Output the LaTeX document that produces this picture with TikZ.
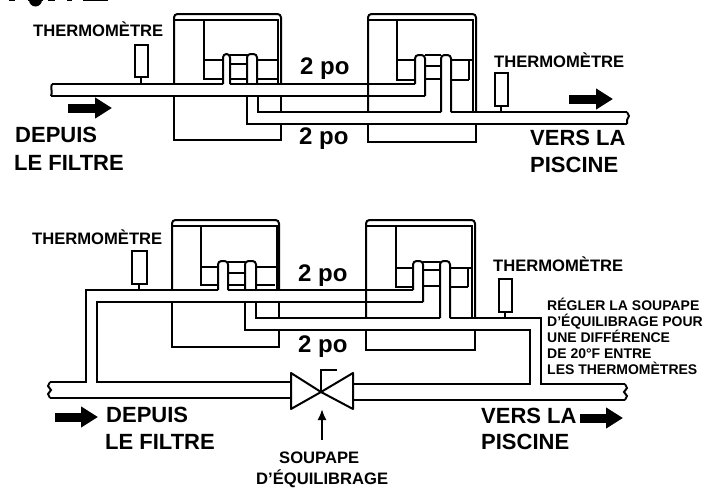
\documentclass[tikz,border=0pt]{standalone}
\usepackage{fontspec}
\setmainfont{Liberation Sans}
\usetikzlibrary{arrows.meta}
\tikzset{
  pipe/.style={line width=2pt},
  hump/.style={pipe,rounded corners=3.5pt},
  bigtext/.style={anchor=west,inner sep=0pt,font=\bfseries\fontsize{22}{26}\selectfont},
  sizetext/.style={anchor=west,inner sep=0pt,font=\bfseries\fontsize{24}{28}\selectfont},
  smalltext/.style={anchor=west,inner sep=0pt,font=\bfseries\fontsize{16.6}{20}\selectfont},
  notetext/.style={anchor=north west,inner sep=0pt,align=left,font=\bfseries\fontsize{14}{16}\selectfont},
  flowarrow/.style={line width=9pt,-{Triangle[length=17pt,width=20pt]}},
}
\begin{document}
\begin{tikzpicture}[x=1pt,y=-1pt]
  \useasboundingbox (0,0) rectangle (705,490);

  % Scan marks along the top edge
  \fill (9,0) rectangle (15,1);
  \fill (28,0) rectangle (43,1);
  \fill (35.5,0) circle (6.5);
  \fill (48,0) rectangle (55,1);
  \fill (67,0) rectangle (72,1);
  \fill (83,0) rectangle (108,1);

  % TOP PANEL
  % Left collector casing
  \draw[hump] (174,84) -- (174,14) -- (281,14) -- (281,84);
  \draw[pipe] (174,96) -- (174,140) -- (281,140) -- (281,123);
  \draw[pipe] (281,96) -- (281,112);
  \draw[pipe] (175,20) -- (278,20) -- (278,84);
  % Left collector headers
  \draw[pipe] (204,20) -- (204,79) -- (223,79);
  \draw[pipe] (204,60) -- (223,60);
  \draw[hump] (223,84) -- (223,54) -- (230,54) -- (230,84);
  \draw[hump] (247,84) -- (247,54) -- (257,54) -- (257,84);
  \draw[pipe] (230,55) -- (247,55);
  \draw[pipe] (230,64) -- (247,64);
  \draw[pipe] (230,79) -- (247,79);
  \draw[pipe] (257,60) -- (278,60);
  \draw[pipe] (257,79) -- (278,79);

  % Right collector casing
  \draw[hump] (368,112) -- (368,14) -- (476,14) -- (476,112);
  \draw[pipe] (368,124) -- (368,142) -- (476,142) -- (476,124);
  \draw[pipe] (369,20) -- (473,20) -- (473,112);
  % Right collector headers
  \draw[pipe] (397,20) -- (397,80) -- (415,80);
  \draw[pipe] (397,60) -- (415,60);
  \draw[pipe] (425,55) -- (441,55);
  \draw[pipe] (425,66) -- (441,66);
  \draw[pipe] (425,79) -- (441,79);
  \draw[pipe] (451,60) -- (473,60);
  \draw[pipe] (451,80) -- (469,80);
  \draw[pipe] (469,60) -- (469,80);

  % Inlet and outlet pipes
  \draw[pipe] (52,84) -- (223,84);
  \draw[pipe] (230,84) -- (415,84);
  \draw[pipe] (51,96) -- (425,96);
  \draw[hump] (415,84) -- (415,55) -- (425,55) -- (425,96);
  \draw[hump] (441,112) -- (441,55) -- (451,55) -- (451,112);
  \draw[pipe] (451,112) -- (627,112);
  \draw[pipe] (441,112) -- (258,112) -- (258,96);
  \draw[pipe] (247,96) -- (247,124) -- (627,124);
  \draw[pipe] (52,84) .. controls (50,88) and (53,92) .. (51,96);
  \draw[pipe] (627,112) -- (629,116) -- (627,120) -- (627,124);

  % Thermometers
  \draw[pipe] (135,45) rectangle (148,77);
  \draw[pipe] (141,77) -- (141,84);
  \draw[pipe] (495,73) rectangle (508,106);
  \draw[pipe] (501,106) -- (501,112);

  % Flow arrows
  \coordinate (flowa) at (68,108);
  \coordinate (flowb) at (112,108);
  \coordinate (flowc) at (569,99);
  \coordinate (flowd) at (613,99);
  \draw[flowarrow] (flowa) -- (flowb);
  \draw[flowarrow] (flowc) -- (flowd);

  % Top labels
  \node[smalltext] (thermoa) at (33,29) {THERMOMÈTRE};
  \node[smalltext] (thermob) at (494,60) {THERMOMÈTRE};
  \node[sizetext] (sizea) at (300,69) {2 po};
  \node[sizetext] (sizeb) at (299,139) {2 po};
  \node[bigtext] (froma) at (15,135) {DEPUIS};
  \node[bigtext] (fromb) at (14,163) {LE FILTRE};
  \node[bigtext] (toa) at (530,138) {VERS LA};
  \node[bigtext] (tob) at (530,165) {PISCINE};

  % BOTTOM PANEL
  % Left collector casing
  \draw[hump] (172,290) -- (172,220) -- (279,220) -- (279,290);
  \draw[pipe] (172,302) -- (172,347) -- (279,347) -- (279,329);
  \draw[pipe] (279,302) -- (279,318);
  \draw[pipe] (173,226) -- (277,226) -- (277,290);
  % Left collector headers
  \draw[pipe] (201,226) -- (201,285) -- (218,285);
  \draw[pipe] (201,267) -- (218,267);
  \draw[hump] (218,290) -- (218,261) -- (228,261) -- (228,290);
  \draw[hump] (245,290) -- (245,261) -- (256,261) -- (256,290);
  \draw[pipe] (228,262) -- (245,262);
  \draw[pipe] (228,273) -- (245,273);
  \draw[pipe] (228,285) -- (245,285);
  \draw[pipe] (256,267) -- (277,267);
  \draw[pipe] (256,285) -- (275,285);

  % Right collector casing
  \draw[hump] (366,318) -- (366,220) -- (475,220) -- (475,318);
  \draw[pipe] (366,330) -- (366,350) -- (475,350) -- (475,330);
  \draw[pipe] (367,226) -- (472,226) -- (472,318);
  % Right collector headers
  \draw[pipe] (396,226) -- (396,287) -- (413,287);
  \draw[pipe] (396,268) -- (413,268);
  \draw[pipe] (423,262) -- (440,262);
  \draw[pipe] (423,270) -- (440,270);
  \draw[pipe] (423,286) -- (440,286);
  \draw[pipe] (450,268) -- (472,268);
  \draw[pipe] (450,287) -- (468,287);
  \draw[pipe] (468,268) -- (468,287);

  % Inlet and outlet pipes
  \draw[pipe] (50,382) -- (86,382) -- (86,290) -- (218,290);
  \draw[pipe] (228,290) -- (413,290);
  \draw[pipe] (50,398) -- (291,398);
  \draw[pipe] (291,382) -- (97,382) -- (97,302) -- (423,302);
  \draw[hump] (413,290) -- (413,261) -- (423,261) -- (423,302);
  \draw[hump] (440,318) -- (440,261) -- (450,261) -- (450,318);
  \draw[pipe] (450,318) -- (541,318) -- (541,384) -- (625,384);
  \draw[pipe] (440,318) -- (256,318) -- (256,302);
  \draw[pipe] (245,302) -- (245,330) -- (530,330) -- (530,384) -- (353,384);
  \draw[pipe] (353,400) -- (625,400);
  \draw[pipe] (50,382) -- (48,386) -- (51,390) -- (48,394) -- (50,398);
  \draw[pipe] (625,384) -- (627,388) -- (624,392) -- (627,396) -- (625,400);

  % Balancing valve
  \coordinate (valve) at (321,392);
  \coordinate (valvetip) at (322,409);
  \draw[pipe,line join=round] (valve) -- (291,373) -- (291,409) -- (valve) -- (353,373) -- (353,409) -- cycle;
  \draw[pipe] (valve) -- (321,370) -- (337,370);

  % Thermometers
  \draw[pipe] (132,251) rectangle (147,284);
  \draw[pipe] (139,284) -- (139,290);
  \draw[pipe] (499,279) rectangle (512,312);
  \draw[pipe] (505,312) -- (505,318);

  % Flow arrows
  \coordinate (flowe) at (55,417);
  \coordinate (flowf) at (98,417);
  \coordinate (flowg) at (580,418);
  \coordinate (flowh) at (623,418);
  \draw[flowarrow] (flowe) -- (flowf);
  \draw[flowarrow] (flowg) -- (flowh);

  % Bottom labels
  \node[smalltext] (thermoc) at (32,237) {THERMOMÈTRE};
  \node[smalltext] (thermod) at (493,264) {THERMOMÈTRE};
  \node[sizetext] (sizec) at (298,276) {2 po};
  \node[sizetext] (sized) at (298,347) {2 po};
  \node[bigtext] (fromc) at (106,415) {DEPUIS};
  \node[bigtext] (fromd) at (105,442) {LE FILTRE};
  \node[bigtext] (toc) at (481,416) {VERS LA};
  \node[bigtext] (tod) at (481,442) {PISCINE};
  \node[notetext] (note) at (547,298) {RÉGLER LA SOUPAPE\\D'ÉQUILIBRAGE POUR\\UNE DIFFÉRENCE\\DE 20°F ENTRE\\LES THERMOMÈTRES};
  \node[smalltext] (valvea) at (279,458) {SOUPAPE};
  \node[smalltext] (valveb) at (256,479) {D'ÉQUILIBRAGE};

  % Arrow to the valve
  \draw[pipe,-{Latex[length=11pt,width=9pt]}] (322,440) -- (valvetip);
\end{tikzpicture}
\end{document}
